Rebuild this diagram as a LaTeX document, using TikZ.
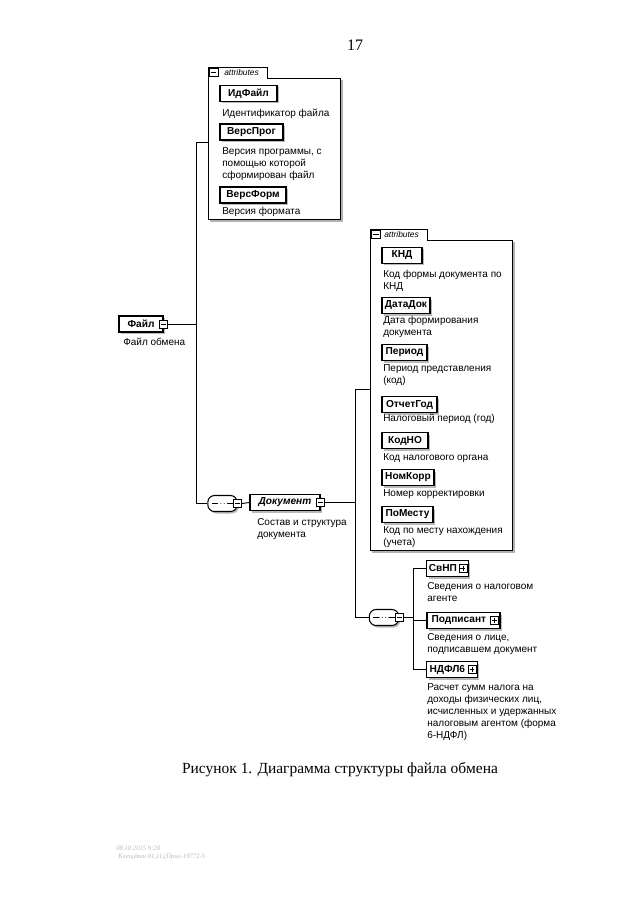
\documentclass[tikz,border=0pt]{standalone}
\usepackage{fontspec}
\setmainfont{Liberation Serif}
\newfontfamily\arialf{Liberation Sans}
\usetikzlibrary{shadows}
\begin{document}
\begin{tikzpicture}[x=0.75pt,y=-0.75pt,
  elem/.style={draw=black, line width=0.9pt, fill=white,
    font=\arialf\bfseries\fontsize{7.6}{9}\selectfont,
    minimum height=12pt, inner xsep=1.5pt, inner ysep=0pt,
    drop shadow={shadow xshift=1.5pt, shadow yshift=-1.5pt, fill=gray!55, opacity=1}},
  desc/.style={anchor=north west, inner sep=0pt, align=left,
    font=\arialf\fontsize{7.5}{9}\selectfont},
  conn/.style={line width=0.7pt},
  sign/.style={draw, line width=0.5pt, fill=white, minimum size=6pt, inner sep=0pt},
  minus/.style={sign, path picture={
    \draw[line width=0.5pt] ([xshift=1.2pt]path picture bounding box.west) -- ([xshift=-1.2pt]path picture bounding box.east);}},
  plus/.style={sign, path picture={
    \draw[line width=0.5pt] ([xshift=1.2pt]path picture bounding box.west) -- ([xshift=-1.2pt]path picture bounding box.east);
    \draw[line width=0.5pt] ([yshift=-1.2pt]path picture bounding box.north) -- ([yshift=1.2pt]path picture bounding box.south);}},
  seq/.style={draw, line width=0.8pt, fill=white, rounded corners=5pt,
    minimum width=22pt, minimum height=12pt, inner sep=0pt,
    drop shadow={shadow xshift=1.2pt, shadow yshift=-1.5pt, fill=gray!55, opacity=1},
    path picture={
      \draw[line width=0.5pt] ([xshift=3pt]path picture bounding box.west) -- ([xshift=-3pt]path picture bounding box.east);
      \foreach \dx in {-2.4pt,0pt,2.4pt} \fill ([xshift=\dx]path picture bounding box.center) circle (1pt);}},
  attrbox/.style={line width=0.6pt},
  attrshadow/.style={line width=0.8pt, gray!60},
  tabtxt/.style={anchor=west, inner sep=0pt, font=\arialf\itshape\fontsize{6.3}{7}\selectfont},
]
\useasboundingbox (0,0) rectangle (640,905);

% page number
\node[font=\fontsize{12}{14}\selectfont] (pnum) at (355,45) {17};

% ---------- attributes box 1 ----------
\draw[attrshadow] (342,80) -- (342,221) -- (210,221);
\draw[attrbox, fill=white] (208,67) -- (267,67) -- (267,78) -- (340,78) -- (340,219) -- (208,219) -- cycle;
\node[minus, minimum size=6.5pt] (tab1icon) at (213.5,72.5) {};
\node[tabtxt] (tab1) at (224,72.5) {attributes};

\node[elem, minimum width=42.75pt] (idfile) at (248.5,93.5) {ИдФайл};
\node[desc] (idfiled) at (222,109) {Идентификатор файла};
\node[elem, minimum width=47.25pt] (versprog) at (251.5,132) {ВерсПрог};
\node[desc] (versprogd) at (222,147) {Версия программы, с\\помощью которой\\сформирован файл};
\node[elem, minimum width=49.5pt] (versform) at (253,195) {ВерсФорм};
\node[desc] (versformd) at (222,207) {Версия формата};

% ---------- root ----------
\node[elem, minimum width=33pt] (file) at (141,324) {Файл};
\node[minus] (filesign) at (file.east) {};
\node[desc] (filed) at (123,338) {Файл обмена};

% trunk
\coordinate (a1in) at (208,142);
\coordinate (t1) at (196,142);
\node[seq] (seq1) at (222.5,503.5) {};
\node[minus] (seq1sign) at (seq1.east) {};
\draw[conn] (a1in) -- (t1) |- (seq1.west);
\draw[conn] (filesign.east) -- (filesign.east -| t1);

% Документ
\node[elem, minimum width=52.5pt, font=\arialf\bfseries\itshape\fontsize{7.6}{9}\selectfont] (doc) at (285,502.5) {Документ};
\node[minus] (docsign) at (doc.east) {};
\node[desc] (docd) at (257,518) {Состав и структура\\документа};
\draw[conn] (seq1sign.east) -- (doc.west);

% ---------- attributes box 2 ----------
\draw[attrshadow] (514,242) -- (514,552) -- (372,552);
\draw[attrbox, fill=white] (370,229) -- (427,229) -- (427,240) -- (512,240) -- (512,550) -- (370,550) -- cycle;
\node[minus, minimum size=6.5pt] (tab2icon) at (376,234.5) {};
\node[tabtxt] (tab2) at (384,234.5) {attributes};

\node[elem, minimum width=30pt] (knd) at (402,255.5) {КНД};
\node[desc] (kndd) at (383,270) {Код формы документа по\\КНД};
\node[elem, minimum width=36pt] (datadok) at (406,305.5) {ДатаДок};
\node[desc] (datadokd) at (383,316) {Дата формирования\\документа};
\node[elem, minimum width=33.75pt] (period) at (404.5,352.5) {Период};
\node[desc] (periodd) at (383,364) {Период представления\\(код)};
\node[elem, minimum width=41.25pt] (otchgod) at (409.5,404.5) {ОтчетГод};
\node[desc] (otchgodd) at (383,414) {Налоговый период (год)};
\node[elem, minimum width=34.5pt] (kodno) at (405,440.5) {КодНО};
\node[desc] (kodnod) at (383,453) {Код налогового органа};
\node[elem, minimum width=39pt] (nomkorr) at (408,477.5) {НомКорр};
\node[desc] (nomkorrd) at (383,489) {Номер корректировки};
\node[elem, minimum width=38.25pt] (pomestu) at (407.5,514.5) {ПоМесту};
\node[desc] (pomestud) at (383,526) {Код по месту нахождения\\(учета)};

% trunk 2
\coordinate (a2in) at (370,389);
\coordinate (t2) at (355,389);
\node[seq] (seq2) at (384,617.5) {};
\node[minus] (seq2sign) at (seq2.east) {};
\draw[conn] (a2in) -- (t2) |- (seq2.west);
\draw[conn] (docsign.east) -- (docsign.east -| t2);

% ---------- sequence children ----------
\node[elem, minimum width=31pt] (svnp) at (447.5,568.5) {СвНП\kern7pt};
\node[plus] (svnpsign) at ([xshift=-4.5pt]svnp.east) {};
\node[desc] (svnpd) at (427,582) {Сведения о налоговом\\агенте};
\node[elem, minimum width=54.75pt] (podp) at (463.5,620.5) {Подписант\kern7pt};
\node[plus] (podpsign) at ([xshift=-4.5pt]podp.east) {};
\node[desc] (podpd) at (427,633) {Сведения о лице,\\подписавшем документ};
\node[elem, minimum width=38pt] (ndfl) at (452,669.5) {НДФЛ6\kern7pt};
\node[plus] (ndflsign) at ([xshift=-4.5pt]ndfl.east) {};
\node[desc] (ndfld) at (427,683) {Расчет сумм налога на\\доходы физических лиц,\\исчисленных и удержанных\\налоговым агентом (форма\\6-НДФЛ)};

\coordinate (t3) at (413,568.5);
\draw[conn] (seq2sign.east) -- (seq2sign.east -| t3);
\draw[conn] (svnp.west) -- (svnp.west -| t3) -- (ndfl.west -| t3) -- (ndfl.west);
\draw[conn] (podp.west) -- (podp.west -| t3);

% caption
\node[font=\fontsize{11.6}{14}\selectfont] (caption) at (340,770) {Рисунок 1. Диаграмма структуры файла обмена};

% footer (faint stamp)
\node[anchor=west, inner sep=0pt, text=gray!55, font=\itshape\fontsize{5}{6}\selectfont] (foot1) at (116,848) {08.10.2015 9:28};
\node[anchor=west, inner sep=0pt, text=gray!55, font=\itshape\fontsize{5}{6}\selectfont] (foot2) at (118,857) {Клещёвин 01,11,(Прил-19772-5};
\end{tikzpicture}
\end{document}
